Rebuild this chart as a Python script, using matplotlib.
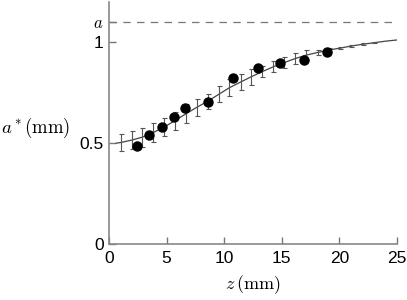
import matplotlib
matplotlib.use('Agg')
import matplotlib.pyplot as plt

plt.rcParams['mathtext.fontset'] = 'cm'
plt.rcParams['font.family'] = ['Liberation Sans', 'DejaVu Sans']

# measured points (dots)
z_meas = [2.46, 3.50, 4.57, 5.62, 6.62, 8.63, 10.80, 12.90, 14.83, 16.90, 18.90]
a_meas = [0.488, 0.539, 0.580, 0.632, 0.673, 0.702, 0.822, 0.873, 0.898, 0.913, 0.952]

# model curve with error bars
z_fit = [0.62, 1.00, 1.96, 2.90, 3.85, 4.80, 5.72, 6.66, 7.60, 8.57, 9.52, 10.45, 11.42,
         12.37, 13.31, 14.27, 15.22, 16.18, 17.14, 18.12, 19.10, 20.10, 21.05, 22.04,
         23.00, 24.00, 25.00]
a_fit = [0.500, 0.503, 0.515, 0.530, 0.553, 0.580, 0.612, 0.645, 0.677, 0.708, 0.742,
         0.775, 0.803, 0.830, 0.855, 0.879, 0.900, 0.920, 0.937, 0.950, 0.962, 0.972,
         0.982, 0.991, 0.998, 1.006, 1.012]
a_err = [0.0, 0.042, 0.046, 0.047, 0.046, 0.045, 0.045, 0.047, 0.041, 0.038, 0.040,
         0.043, 0.040, 0.039, 0.026, 0.027, 0.027, 0.027, 0.025, 0.012, 0.010, 0.007,
         0.005, 0.004, 0.003, 0.0, 0.0]

a_limit = 1.1

fig = plt.figure(figsize=(4.07, 3.0), dpi=100)
ax = fig.add_axes([0.268, 0.187, 0.707, 0.806])

# limiting value a
ax.plot([0, 24.6], [a_limit, a_limit], color='#777777', lw=0.9, dashes=(6, 5))

# curve
ax.plot(z_fit, a_fit, color='#444444', lw=0.9)
# error bars (skip start/end points)
ax.errorbar(z_fit[1:25], a_fit[1:25], yerr=a_err[1:25], fmt='none', ecolor='#555555',
            elinewidth=0.8, capsize=1.8, capthick=0.8)

# data points
ax.plot(z_meas, a_meas, 'o', color='black', markersize=6.5, zorder=5)

ax.set_xlim(0, 25)
ax.set_ylim(0, 1.2)
ax.set_xticks([0, 5, 10, 15, 20, 25])
ax.set_yticks([0, 0.5, 1, a_limit])
ax.set_yticklabels(['0', '0.5', '1', '$a$'])
ax.tick_params(direction='in', length=5, width=1, color='#777777', labelsize=12.5)
ax.tick_params(axis='x', pad=5)
ax.tick_params(axis='y', pad=4)
ax.get_yticklabels()[3].set_fontsize(12)

for side in ['top', 'right']:
    ax.spines[side].set_visible(False)
for side in ['left', 'bottom']:
    ax.spines[side].set_color('#888888')
    ax.spines[side].set_linewidth(1.2)

ax.set_xlabel(r'$z\,(\mathrm{mm})$', fontsize=13, labelpad=5)
ax.set_ylabel(r'$a^*(\mathrm{mm})$', fontsize=13.5, rotation=0, ha='center', va='center')
ax.yaxis.set_label_coords(-0.255, 0.48)

fig.savefig('out.png', dpi=100)
